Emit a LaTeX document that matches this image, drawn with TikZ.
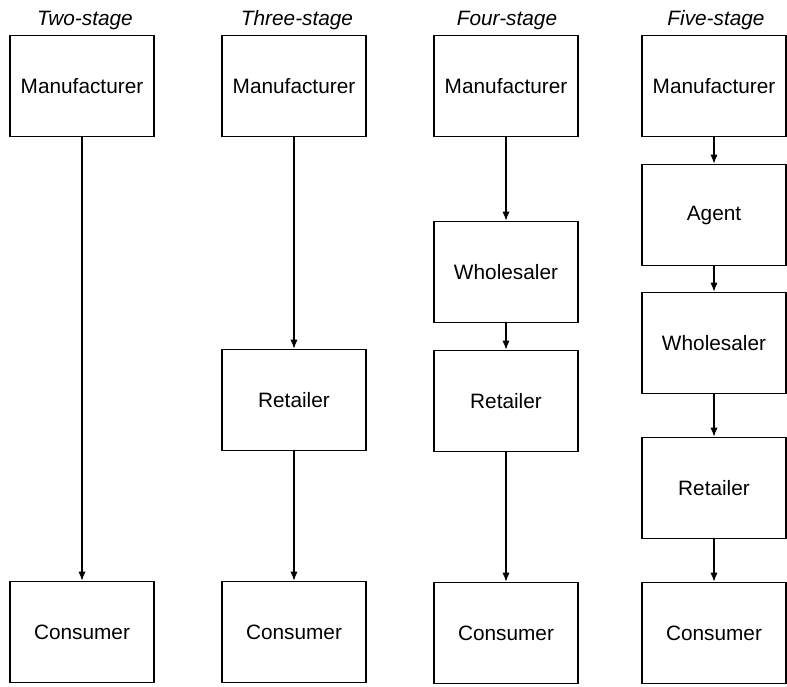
\documentclass[tikz,border=0pt]{standalone}
\usepackage{fontspec}
\setmainfont{Liberation Sans}
\usetikzlibrary{arrows.meta}
\begin{document}
\begin{tikzpicture}[x=0.5pt,y=-0.5pt,
	stagebox/.style={draw,line width=0.8pt,minimum width=72pt,minimum height=50.5pt,inner sep=0pt,font=\fontsize{10.4}{12}\selectfont},
	stagetitle/.style={anchor=base,font=\fontsize{10.4}{12}\selectfont\itshape},
	flow/.style={-{Latex[length=4.5pt,width=3.6pt]},line width=0.6pt}]
	\useasboundingbox (0,0) rectangle (787,686);
	% titles
	\node[stagetitle] (t2) at (85,25)  {Two-stage};
	\node[stagetitle] (t3) at (297,25) {Three-stage};
	\node[stagetitle] (t4) at (507,25) {Four-stage};
	\node[stagetitle] (t5) at (716,25) {Five-stage};
	% two-stage
	\node[stagebox] (m2) at (82,86)  {Manufacturer};
	\node[stagebox] (c2) at (82,632) {Consumer};
	% three-stage
	\node[stagebox] (m3) at (294,86)  {Manufacturer};
	\node[stagebox] (r3) at (294,400) {Retailer};
	\node[stagebox] (c3) at (294,632) {Consumer};
	% four-stage
	\node[stagebox] (m4) at (506,86)  {Manufacturer};
	\node[stagebox] (w4) at (506,272) {Wholesaler};
	\node[stagebox] (r4) at (506,401) {Retailer};
	\node[stagebox] (c4) at (506,633) {Consumer};
	% five-stage
	\node[stagebox] (m5) at (714,86)  {Manufacturer};
	\node[stagebox] (a5) at (714,215) {Agent};
	\node[stagebox] (w5) at (714,343) {Wholesaler};
	\node[stagebox] (r5) at (714,488) {Retailer};
	\node[stagebox] (c5) at (714,633) {Consumer};
	% arrows
	\draw[flow] (m2) -- (c2);
	\draw[flow] (m3) -- (r3);
	\draw[flow] (r3) -- (c3);
	\draw[flow] (m4) -- (w4);
	\draw[flow] (w4) -- (r4);
	\draw[flow] (r4) -- (c4);
	\draw[flow] (m5) -- (a5);
	\draw[flow] (a5) -- (w5);
	\draw[flow] (w5) -- (r5);
	\draw[flow] (r5) -- (c5);
\end{tikzpicture}
\end{document}
